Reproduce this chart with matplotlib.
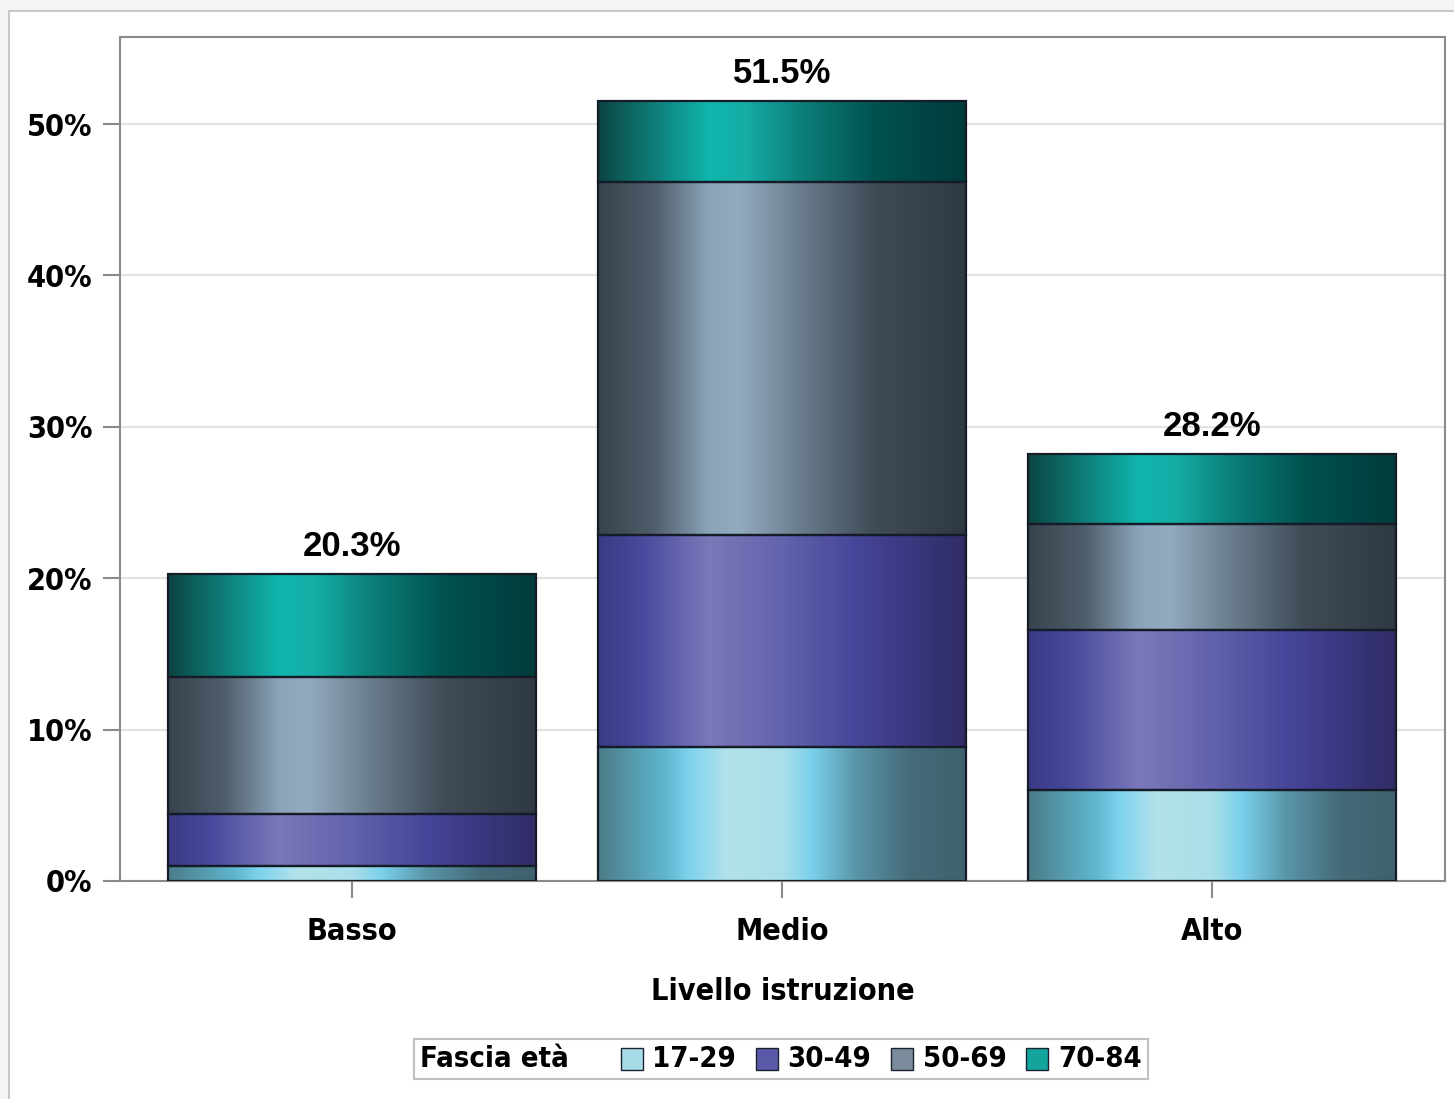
import numpy as np
import matplotlib.pyplot as plt
from matplotlib.colors import LinearSegmentedColormap
from matplotlib.patches import Rectangle
from matplotlib.offsetbox import AnchoredOffsetbox, HPacker, TextArea, DrawingArea

categorie = ['Basso', 'Medio', 'Alto']
fasce = ['17-29', '30-49', '50-69', '70-84']
v_17_29 = [1.0, 8.85, 6.0]
v_30_49 = [3.4, 14.0, 10.6]
v_50_69 = [9.1, 23.35, 7.0]
v_70_84 = [6.8, 5.3, 4.6]
yticks = [0, 10, 20, 30, 40, 50]

serie = [v_17_29, v_30_49, v_50_69, v_70_84]

# sfumature orizzontali (stile SAS)
grad = [
    [(0, '#4b7c88'), (0.18, '#5fb6cf'), (0.25, '#7fd3ee'), (0.35, '#b3e2ea'), (0.5, '#a9dfe9'),
     (0.58, '#7bd0ec'), (0.7, '#5896a8'), (0.85, '#456a78'), (1, '#3f6170')],
    [(0, '#3a3a86'), (0.12, '#4a4a9e'), (0.3, '#7b79b9'), (0.5, '#6262ad'), (0.7, '#48469a'),
     (0.85, '#3a3880'), (1, '#302c66')],
    [(0, '#37434e'), (0.15, '#4f5d6a'), (0.3, '#8aa4b9'), (0.38, '#93abc0'), (0.55, '#6a7d8d'),
     (0.75, '#3f4b57'), (1, '#2f3942')],
    [(0, '#0b4543'), (0.15, '#0f7d78'), (0.3, '#10b6ae'), (0.4, '#15ada6'), (0.55, '#0c807a'),
     (0.75, '#005250'), (1, '#003b3b')],
]
col_legenda = ['#a6dce8', '#5a59a8', '#7a8c9c', '#13a49c']

plt.rcParams['font.family'] = ['DejaVu Sans']
plt.rcParams['font.stretch'] = 'condensed'

fig = plt.figure(figsize=(14.54, 10.99), dpi=100, facecolor='#f3f4f6')
fig.patches.append(Rectangle((9 / 1454, -0.1), 1.1, 1 - 11 / 1099 + 0.1, transform=fig.transFigure,
                             facecolor='white', edgecolor='#c8c8c8', lw=1.5, zorder=-5))
ax = fig.add_axes([120 / 1454, 1 - 881 / 1099, (1445 - 120) / 1454, (881 - 37) / 1099])

x = np.arange(len(categorie))
base = np.zeros(len(categorie))
g = np.linspace(0, 1, 256).reshape(1, -1)
for i, vals in enumerate(serie):
    cmap = LinearSegmentedColormap.from_list('g%d' % i, grad[i])
    bars = ax.bar(x, vals, width=0.856, bottom=base, facecolor='none',
                  edgecolor='#151c28', lw=1.6, zorder=3)
    for b in bars:
        bx, by = b.get_x(), b.get_y()
        im = ax.imshow(g, cmap=cmap, aspect='auto', zorder=2,
                       extent=[bx, bx + b.get_width(), by, by + b.get_height()])
        im.set_clip_path(b)
    base = base + np.array(vals)

for xi, tot in zip(x, base):
    ax.annotate('%.1f%%' % tot, (xi, tot), xytext=(0, 13), textcoords='offset points',
                ha='center', va='baseline', fontsize=25, fontweight='bold', fontstretch='normal',
                family=['Liberation Sans', 'DejaVu Sans'])

ax.set_xlim(-0.54, 2.542)
ax.set_ylim(0, 55.75)
ax.set_yticks(yticks)
ax.set_yticklabels(['%d%%' % t for t in yticks])
ax.set_xticks(x)
ax.set_xticklabels(categorie)
ax.grid(axis='y', color='#e2e2e2', lw=1.5, zorder=0)
ax.set_axisbelow(True)
for s in ax.spines.values():
    s.set_color('#8a8a8a')
    s.set_linewidth(1.5)
ax.tick_params(axis='both', colors='#8a8a8a', width=1.5, length=12, labelcolor='black',
               labelsize=22)
ax.tick_params(axis='y', pad=8)
ax.tick_params(axis='x', pad=14)
for lab in ax.get_xticklabels() + ax.get_yticklabels():
    lab.set_fontweight('bold')
ax.set_xlabel('Livello istruzione', fontsize=22, fontweight='bold', labelpad=22)

# legenda con titolo in linea
tp = dict(fontsize=21, fontweight='bold', fontstretch='condensed')
voci = []
for lab, c in zip(fasce, col_legenda):
    da = DrawingArea(18, 18, 0, 0)
    da.add_artist(Rectangle((1, 1), 16, 16, facecolor=c, edgecolor='#1a2230', lw=1))
    voci.append(HPacker(children=[da, TextArea(lab, textprops=tp)], sep=6, align='center'))
box = HPacker(children=[TextArea('Fascia età', textprops=tp),
                        HPacker(children=voci, sep=13, align='center')],
              sep=36, align='center')
leg = AnchoredOffsetbox(loc='center', child=box, pad=0.45, borderpad=0, frameon=True,
                        bbox_to_anchor=(781 / 1454, 1 - 1059 / 1099), bbox_transform=fig.transFigure)
leg.patch.set_edgecolor('#c0c0c0')
leg.patch.set_linewidth(1.5)
fig.add_artist(leg)

fig.savefig('out.png', dpi=100, facecolor=fig.get_facecolor())
